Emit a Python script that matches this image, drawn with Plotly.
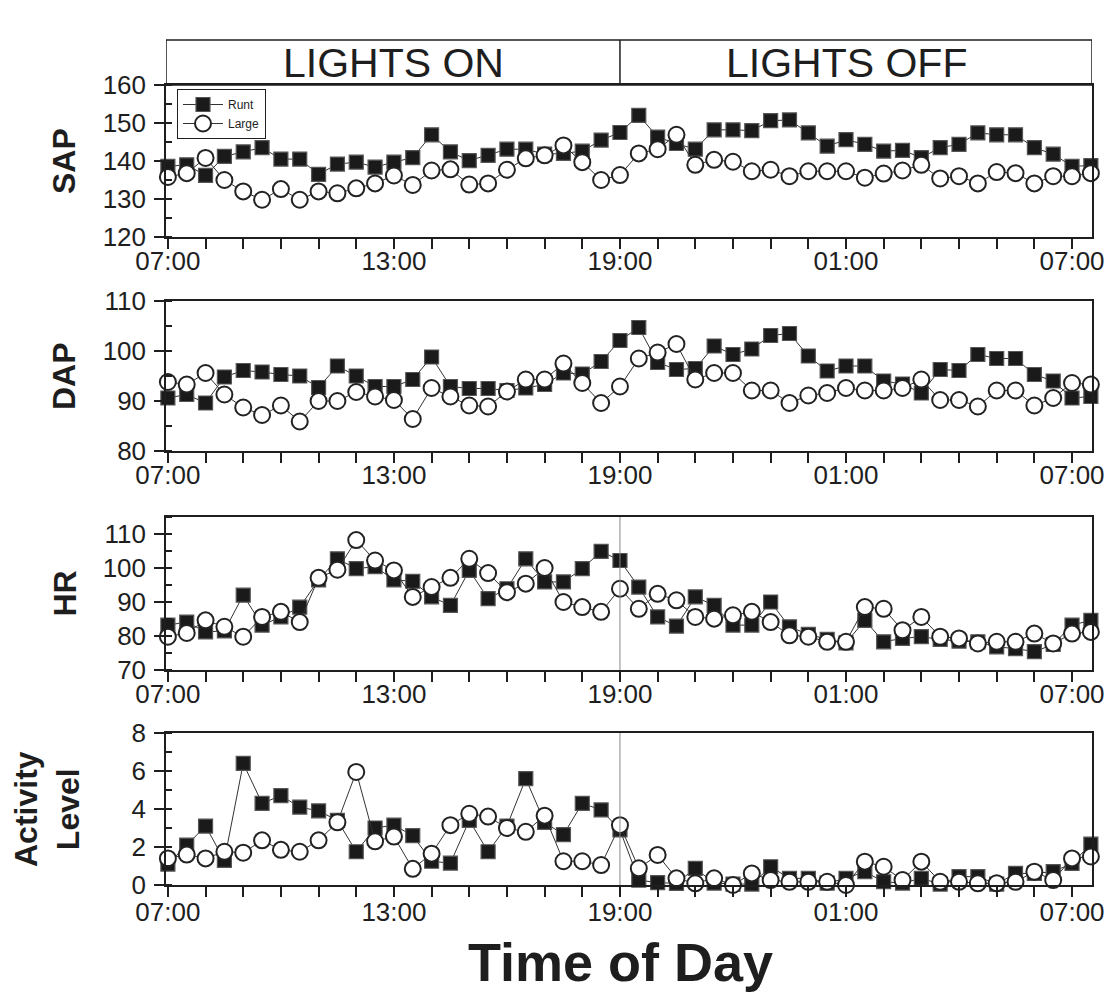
import plotly.graph_objects as go

W, H = 1116, 1001

# half-hourly samples from 07:00 to 07:30 next day (hours after 07:00)
hours = [0.5 * i for i in range(50)]

sap_runt = [138.6, 139.0, 136.2, 141.2, 142.4, 143.5, 140.5, 140.5, 136.5, 139.2,
            139.7, 138.4, 139.7, 140.9, 146.9, 142.4, 140.1, 141.5, 143.1, 143.1,
            141.8, 142.0, 142.6, 145.5, 147.5, 152.0, 146.3, 144.6, 143.1, 148.2,
            148.2, 148.0, 150.6, 150.8, 147.4, 143.9, 145.6, 144.4, 142.6, 142.8,
            140.9, 143.5, 144.4, 147.4, 146.9, 146.9, 143.5, 141.8, 138.6, 138.8]
sap_large = [135.8, 136.8, 140.8, 135.0, 132.0, 129.8, 132.6, 129.8, 132.0, 131.5,
             132.8, 134.1, 136.2, 133.7, 137.5, 137.8, 133.8, 134.1, 137.7, 140.7,
             141.5, 144.1, 139.7, 135.0, 136.3, 142.0, 143.1, 146.9, 139.0, 140.3,
             139.8, 137.3, 137.7, 136.0, 137.3, 137.3, 137.3, 135.6, 136.7, 137.5,
             139.0, 135.4, 136.0, 134.1, 137.1, 136.8, 134.1, 136.0, 136.0, 136.8]

dap_runt = [90.6, 91.3, 89.6, 94.8, 96.1, 95.8, 95.3, 95.0, 92.7, 97.0,
            95.0, 92.9, 92.9, 94.3, 98.8, 92.9, 92.5, 92.5, 92.1, 92.6,
            93.3, 95.6, 95.4, 97.9, 102.1, 104.7, 97.7, 96.3, 96.5, 101.0,
            99.3, 100.4, 103.1, 103.5, 99.0, 96.0, 97.0, 97.0, 94.0, 93.4,
            91.6, 96.3, 96.1, 99.3, 98.5, 98.5, 95.3, 94.0, 90.6, 90.9]
dap_large = [93.8, 93.3, 95.6, 91.3, 88.7, 87.2, 89.1, 85.9, 90.0, 90.0,
             91.8, 90.9, 90.2, 86.4, 92.6, 90.9, 89.1, 88.9, 91.9, 94.3,
             94.3, 97.5, 93.6, 89.6, 92.9, 98.5, 99.7, 101.4, 94.3, 95.6,
             95.6, 92.1, 92.1, 89.6, 91.1, 91.6, 92.6, 92.1, 92.1, 92.6,
             94.3, 90.2, 90.2, 88.9, 92.1, 92.1, 89.1, 90.6, 93.6, 93.3]

hr_runt = [83.2, 84.1, 81.2, 81.5, 92.0, 83.2, 85.6, 88.5, 96.5, 102.7,
           99.8, 100.4, 96.5, 96.1, 91.5, 89.0, 99.3, 91.0, 93.9, 102.7,
           95.9, 95.9, 99.8, 104.9, 102.2, 94.4, 85.6, 82.9, 91.5, 89.0,
           83.2, 83.2, 90.0, 82.7, 80.5, 79.0, 78.0, 84.6, 78.3, 79.3,
           79.8, 79.0, 78.5, 78.3, 76.8, 76.3, 75.4, 77.5, 83.2, 84.6]
hr_large = [79.8, 80.9, 84.6, 82.7, 79.8, 85.6, 87.1, 84.1, 97.1, 99.5,
            108.2, 102.2, 99.3, 91.5, 94.4, 97.1, 102.7, 98.5, 92.9, 95.4,
            100.0, 90.0, 88.5, 87.1, 93.9, 88.0, 92.4, 90.5, 85.6, 85.1,
            86.1, 87.1, 84.1, 80.2, 79.8, 78.3, 78.3, 88.5, 88.0, 81.7,
            85.6, 79.8, 79.3, 77.8, 78.3, 78.3, 80.7, 77.8, 80.7, 81.2]

act_runt = [1.1, 2.1, 3.1, 1.3, 6.4, 4.3, 4.7, 4.1, 3.9, 3.4,
            1.75, 3.0, 3.15, 2.6, 1.25, 1.15, 3.4, 1.75, 3.1, 5.6,
            3.3, 2.65, 4.3, 3.95, 2.9, 0.26, 0.12, 0.09, 0.88, 0.1,
            0.05, 0.05, 0.96, 0.35, 0.35, 0.1, 0.35, 0.7, 0.17, 0.1,
            0.35, 0.05, 0.44, 0.44, 0.05, 0.61, 0.61, 0.7, 1.14, 2.15]
act_large = [1.4, 1.6, 1.4, 1.75, 1.7, 2.35, 1.85, 1.75, 2.35, 3.3,
             5.95, 2.3, 2.55, 0.85, 1.65, 3.15, 3.75, 3.6, 3.0, 2.8,
             3.65, 1.25, 1.25, 1.05, 3.15, 0.88, 1.58, 0.35, 0.09, 0.35,
             0.0, 0.61, 0.26, 0.17, 0.17, 0.17, 0.0, 1.23, 0.96, 0.26,
             1.23, 0.17, 0.17, 0.09, 0.09, 0.17, 0.7, 0.26, 1.4, 1.5]

tick_hours = [0, 6, 12, 18, 24]
tick_text = ["07:00", "13:00", "19:00", "01:00", "07:00"]

panels = [
    dict(name="SAP", runt=sap_runt, large=sap_large, rng=[120, 160], ticks=[120, 130, 140, 150, 160], minor=5, top=85, bot=237),
    dict(name="DAP", runt=dap_runt, large=dap_large, rng=[80, 110], ticks=[80, 90, 100, 110], minor=5, top=301, bot=451),
    dict(name="HR", runt=hr_runt, large=hr_large, rng=[70, 115], ticks=[70, 80, 90, 100, 110], minor=5, top=517, bot=670),
    dict(name="Activity<br>Level", runt=act_runt, large=act_large, rng=[0, 8], ticks=[0, 2, 4, 6, 8], minor=1, top=733, bot=885),
]

INK = "#1e1e1e"
FONT = "Liberation Sans, Arial, sans-serif"
X0, X1 = 166, 1092
xr = [-0.05, 24.53]

fig = go.Figure()
layout = dict(
    width=W, height=H, margin=dict(l=0, r=0, t=0, b=0, pad=0, autoexpand=False),
    paper_bgcolor="white", plot_bgcolor="white",
    font=dict(family=FONT, color=INK, size=26),
    showlegend=True,
    legend=dict(x=177 / W, y=1 - 89 / H, xanchor="left", yanchor="top",
                bgcolor="white", bordercolor=INK, borderwidth=1,
                font=dict(size=12, family=FONT), tracegroupgap=0,
                itemwidth=40, entrywidth=80, itemsizing="trace"),
)
shapes = []
annotations = []

for k, p in enumerate(panels):
    n = "" if k == 0 else str(k + 1)
    xa, ya = "x" + n, "y" + n
    fig.add_trace(go.Scatter(
        x=hours, y=p["runt"], mode="lines+markers", name="Runt",
        xaxis=xa, yaxis=ya, showlegend=(k == 0),
        line=dict(color="#333333", width=1),
        marker=dict(symbol="square", size=14, color="#1a1a1a",
                    line=dict(color="#555555", width=1.2)),
        cliponaxis=False))
    fig.add_trace(go.Scatter(
        x=hours, y=p["large"], mode="lines+markers", name="Large",
        xaxis=xa, yaxis=ya, showlegend=(k == 0),
        line=dict(color="#333333", width=1),
        marker=dict(symbol="circle", size=16, color="white",
                    line=dict(color="#222222", width=2)),
        cliponaxis=False))
    layout["xaxis" + n] = dict(
        domain=[X0 / W, X1 / W], range=xr, anchor=ya, automargin=False,
        tickmode="array", tickvals=tick_hours, ticktext=tick_text,
        ticks="outside", ticklen=10, tickwidth=1.5, tickcolor=INK,
        minor=dict(dtick=1, tick0=0, ticks="outside", ticklen=10, tickwidth=1.5, tickcolor=INK),
        showline=True, linecolor=INK, linewidth=1.5, mirror=True,
        showgrid=False, zeroline=False, tickfont=dict(size=26),
        ticklabelstandoff=(-10 if k < 3 else -7),
    )
    layout["yaxis" + n] = dict(
        domain=[1 - p["bot"] / H, 1 - p["top"] / H], range=p["rng"], anchor=xa, automargin=False,
        tickmode="array", tickvals=p["ticks"],
        ticks="outside", ticklen=10, tickwidth=1.5, tickcolor=INK,
        minor=dict(dtick=p["minor"], tick0=0, ticks="inside", ticklen=6, tickwidth=1.5, tickcolor=INK),
        showline=True, linecolor=INK, linewidth=1.5, mirror=True,
        showgrid=False, zeroline=False, tickfont=dict(size=26),
        ticklabelstandoff=3,
    )
    mid = 1 - (p["top"] + p["bot"]) / 2 / H
    annotations.append(dict(
        text="<b>" + p["name"] + "</b>", xref="paper", yref="paper",
        x=(64 if k < 3 else 47) / W, y=mid, xanchor="center", yanchor="middle",
        textangle=-90, showarrow=False, font=dict(size=32, family=FONT, color=INK)))
    if k >= 2:
        shapes.append(dict(type="line", xref=xa, yref=ya + " domain", x0=12, x1=12, y0=0, y1=1,
                           line=dict(color="#888888", width=1)))

# header box: lights on / lights off
shapes.append(dict(type="rect", xref="x", yref="paper", x0=xr[0], x1=xr[1],
                   y0=1 - 85 / H, y1=1 - 40 / H, line=dict(color=INK, width=1.5)))
shapes.append(dict(type="line", xref="x", yref="paper", x0=12, x1=12,
                   y0=1 - 85 / H, y1=1 - 40 / H, line=dict(color=INK, width=1.5)))
annotations.append(dict(text="LIGHTS ON", xref="x", yref="paper", x=6, y=1 - 63 / H,
                        xanchor="center", yanchor="middle",
                        showarrow=False, font=dict(size=41, family=FONT, color=INK)))
annotations.append(dict(text="LIGHTS OFF", xref="x", yref="paper", x=18, y=1 - 63 / H,
                        xanchor="center", yanchor="middle",
                        showarrow=False, font=dict(size=41, family=FONT, color=INK)))
annotations.append(dict(text="<b>Time of Day</b>", xref="paper", yref="paper",
                        x=620 / W, y=1 - 962 / H, xanchor="center", yanchor="middle",
                        showarrow=False, font=dict(size=54, family=FONT, color=INK)))

layout["shapes"] = shapes
layout["annotations"] = annotations
fig.update_layout(**layout)
fig.write_html("out.html")
